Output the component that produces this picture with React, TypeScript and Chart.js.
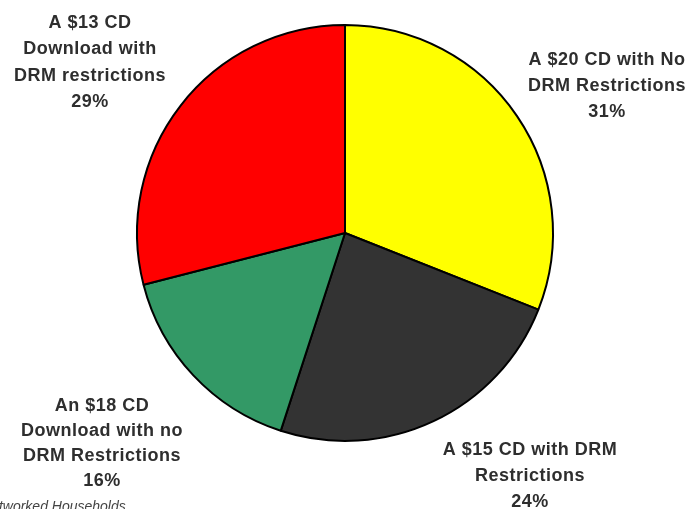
import React, { useEffect, useRef } from "react";
import { Chart, registerables } from "chart.js";

Chart.register(...registerables);

const categories: string[][] = [
  ["A $20 CD with No", "DRM Restrictions"],
  ["A $15 CD with DRM", "Restrictions"],
  ["An $18 CD", "Download with no", "DRM Restrictions"],
  ["A $13 CD", "Download with", "DRM restrictions"],
];
const shares: number[] = [31, 24, 16, 29];
const sliceColors: string[] = ["#FFFF00", "#333333", "#339966", "#FF0000"];
const footnote = "Networked Households";

// label anchor (center x, first line y, line step) per slice
const labelSpots = [
  { x: 607, y: 60, step: 26 },
  { x: 530, y: 450, step: 26 },
  { x: 102, y: 406, step: 25 },
  { x: 90, y: 23, step: 26.5 },
];

const labelPlugin = {
  id: "sliceLabels",
  afterDraw(chart: any) {
    const ctx = chart.ctx as CanvasRenderingContext2D;
    ctx.save();
    ctx.fillStyle = "#2e2e2e";
    ctx.textAlign = "center";
    ctx.textBaseline = "middle";
    ctx.font = "bold 18px 'Liberation Sans', Arial, sans-serif";
    (ctx as any).letterSpacing = "0.5px";
    categories.forEach((lines, i) => {
      const spot = labelSpots[i];
      const all = [...lines, `${shares[i]}%`];
      all.forEach((t, j) => {
        ctx.fillText(t, spot.x, spot.y + j * spot.step);
      });
    });
    (ctx as any).letterSpacing = "0px";
    ctx.font = "italic 14px 'Liberation Sans', Arial, sans-serif";
    ctx.textAlign = "left";
    ctx.fillStyle = "#444";
    ctx.fillText(footnote, -19, 507);
    ctx.restore();
  },
};

export default function App() {
  const ref = useRef<HTMLCanvasElement | null>(null);
  useEffect(() => {
    document.body.style.margin = "0";
    document.body.style.background = "#ffffff";
    if (!ref.current) return;
    const chart = new Chart(ref.current, {
      type: "pie",
      data: {
        labels: categories.map((c) => c.join(" ")),
        datasets: [
          {
            data: shares,
            backgroundColor: sliceColors,
            borderColor: "#000000",
            borderWidth: 2,
          },
        ],
      },
      options: {
        responsive: false,
        animation: false,
        layout: { padding: { left: 136, right: 140, top: 22, bottom: 65 } },
        plugins: {
          legend: { display: false },
          tooltip: { enabled: false },
          title: { display: false },
        },
      },
      plugins: [labelPlugin],
    });
    return () => chart.destroy();
  }, []);
  return (
    <div style={{ position: "absolute", left: 0, top: 0, width: 694, height: 509, background: "#fff" }}>
      <canvas ref={ref} width={694} height={509} style={{ width: 694, height: 509, display: "block" }} />
    </div>
  );
}
